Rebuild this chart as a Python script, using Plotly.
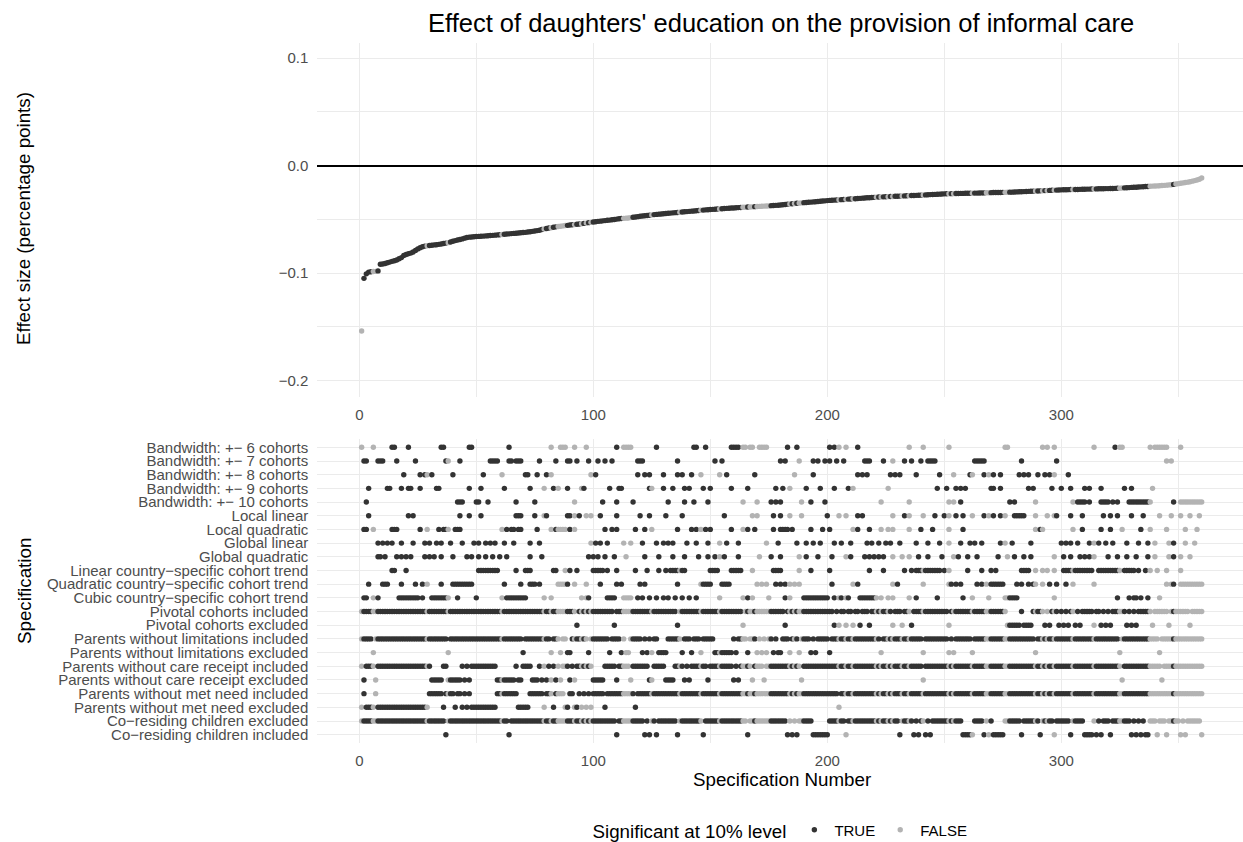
import plotly.graph_objects as go

N_SPECS = 360

# Effect estimate of each specification, sorted ascending (units of 1e-4)
effect_e4 = [
    -1538, -1048, -1006, -990, -987, -985, -983, -979, -917, -914,
    -910, -903, -897, -890, -885, -878, -866, -855, -836, -826,
    -819, -813, -803, -788, -774, -763, -754, -748, -745, -742,
    -740, -737, -735, -732, -728, -724, -720, -716, -710, -703,
    -697, -692, -687, -681, -674, -668, -665, -663, -661, -659,
    -658, -656, -655, -653, -652, -650, -648, -646, -644, -642,
    -640, -638, -636, -634, -632, -630, -628, -626, -624, -622,
    -620, -617, -614, -611, -608, -604, -600, -594, -588, -584,
    -580, -577, -573, -569, -566, -563, -560, -557, -555, -552,
    -550, -548, -545, -543, -540, -537, -534, -530, -527, -524,
    -521, -518, -516, -513, -511, -508, -506, -503, -500, -497,
    -494, -492, -490, -488, -486, -483, -480, -477, -474, -471,
    -468, -466, -463, -461, -458, -455, -453, -451, -449, -447,
    -445, -443, -441, -439, -437, -435, -433, -431, -429, -427,
    -425, -423, -421, -419, -417, -415, -413, -411, -410, -408,
    -406, -405, -403, -402, -400, -399, -397, -396, -394, -393,
    -391, -390, -389, -387, -386, -385, -384, -383, -381, -380,
    -379, -378, -376, -375, -374, -372, -371, -369, -368, -366,
    -363, -361, -358, -356, -354, -352, -350, -348, -346, -344,
    -342, -340, -339, -337, -335, -333, -331, -329, -327, -325,
    -323, -322, -320, -319, -317, -316, -314, -313, -311, -310,
    -308, -307, -305, -304, -302, -301, -299, -298, -296, -295,
    -294, -292, -291, -290, -289, -288, -287, -286, -285, -284,
    -283, -282, -281, -280, -279, -278, -277, -276, -275, -274,
    -273, -272, -271, -269, -268, -267, -266, -265, -263, -262,
    -261, -261, -260, -260, -259, -259, -258, -258, -257, -257,
    -256, -256, -255, -255, -254, -253, -253, -252, -252, -251,
    -250, -250, -249, -249, -248, -248, -247, -246, -246, -245,
    -244, -243, -242, -241, -240, -239, -238, -237, -236, -235,
    -234, -233, -232, -231, -230, -229, -228, -227, -226, -225,
    -224, -224, -223, -222, -222, -221, -221, -220, -219, -219,
    -218, -218, -217, -216, -216, -215, -215, -214, -213, -213,
    -212, -212, -211, -210, -209, -207, -206, -205, -204, -202,
    -201, -200, -199, -197, -196, -194, -193, -192, -190, -189,
    -188, -186, -185, -183, -181, -179, -177, -174, -171, -167,
    -163, -160, -157, -153, -149, -144, -139, -133, -126, -115,
]

# Specifications that are NOT significant at the 10% level
not_significant = ("1,6-7,29,38,61,79,82,85-88,92,95,97,99,113-116,125,137,146,154,"
                   "164-165,167-168,170-175,184,186,188-189,205,208,211,221,223,226,228,"
                   "232,235,241,252,254,262,268-269,276-277,289,292,294,297,305,314,"
                   "325-326,338-347,349-360")

# Which specifications use each analytic choice
bandwidth_6 = ("1,6,14-15,21,35-36,47-48,64,82,86-88,92,97,110,113-116,127,143-144,148,"
               "159-162,164-165,167-168,171-174,183,187,201,203,205,208,213,235,241,252,"
               "276-277,292,294,297,314,323,325-326,338,340-345,351")
bandwidth_7 = ("2-3,8-10,16,24,37-38,43,56-59,64-65,67-69,77,84,89-90,93,98,102,105,108,"
               "119-121,136,152,155,180,182,188,194,196,199,201,204,207,216-218,224,228,"
               "233,236,240,243-246,263-267,283,298,345,347")
bandwidth_8 = ("19,26,28-29,31,40,53,61,71-72,76,80,82,99,101,119,122,124,130,136,138,142,"
               "146,154,157,169,186,194,213,215,217,227,229,231,238,248,254,261-262,267,"
               "269,271,274,282,284,286,290,293,295,297,303")
bandwidth_9 = ("4,12-13,18,21-22,26,33-34,47,52,62,73,79,83,85,89,95-96,107,111-112,"
               "124-125,130,134,139,141,147,150,159,166,178,181,184,191,197,203,209,211,"
               "226,247,251,255,257,259,270-271,274,286,288,296,300,304,310,312,317,327,"
               "330,339")
bandwidth_10 = ("3,42-44,50-51,55,67,75,92,104,110,117,132,139,143,149,164,170,176,178,180,"
                "189,193,199,223,235,252,254,257,278,280,289,305,307-310,312,317-320,322,"
                "324,329-338,348,351-360")
local_linear = ("4,21,23,43,47,52,67-69,75,79-80,89-90,92,94,97,99,103,110,120,124,131,138,"
                "156,168,170,177,180,184,189,200,205,208,213,215,228,233,235,241,246,250,"
                "252,255,258,262,267,269,271,274,276,280-284,289,294,297-298,304,309,318,"
                "321,324,330,335,342,347,351,355,359")
local_quadratic = ("2-3,6,14-16,26,29,34,36-38,41-43,61,63,65-66,68-69,76,82,84-88,90,92,105,"
                   "108,110,118,122,125,136,142,144,146,148,150,159,164,166,169,177,180-183,"
                   "185,193,198,201,211,213,218,223,226,228,235,240,245,252,258,289,291-292,"
                   "305,309,317,321,326,334,338,345,353,358")
global_linear = ("8,10,12,14,18,23,28,30,33,35,39,44,49,51,54,56,58,62,66,73,77,99,101,103,"
                 "106,113,116,121,127,130,132,134,140,144,149,154,157,162,174,179,187,191,"
                 "194,197,203,206,210,217,219,222,225,227,231,238,243,248,252,257,261,263,"
                 "266,274,276,279,287,300,302,304,307,312,314,316,319,322,328,333,337,340,"
                 "346,348,353,357")
global_quadratic = ("8-9,11,16,18,20,22,28,30,32,35,40,46,48,51,54,57,60,63,73,78,98,100,102,"
                    "105,109,114,122,128,134,139,145,149,152,154,156,162,171,176,180,188,191,"
                    "196,202,208,210,216,218,220,222,224,228,232,235,239,243,249,254,256,260,"
                    "264,273,277,280,284,287,297,301,304,308,310,312,314,320,324,328,332,337,"
                    "340,346,348,351,355")
trend_linear = ("14-15,20,51-59,67,71-73,83-84,88,90,93,100-104,106,110,118,123,128,131,"
                "133-139,150-153,159-163,168,177-180,188,193,201,218,224,233,236,238-248,"
                "250,252,260,266,270,272,283-286,289,292,294,297,301-313,316-325,327-331,"
                "333,336,338,341,345,351")
trend_quadratic = ("4,10-12,18,24,27,29,35,40-48,62,69,73-75,77,85-89,92,97,103,110,112,120,"
                   "122,136,146-150,155-158,170,172,174,178,180,182,184,186,188,202,211,213,"
                   "228,230,241,252-253,255,257,264,266,268,270-275,281,283,286,288-289,292,"
                   "295,298,302,305,314,345,347-348,351-360")
trend_cubic = ("2-3,6,8,17-25,27,31-38,42,50,61,63-71,79,82,95,97-98,106-109,113-116,119,"
               "121,124,127,130,132,135,138,141,144,154,164,166,168,175,182,184,190-200,203,"
               "205-206,208-209,214-221,223,226,228,235,238,247,258,262,269,276-281,297,324,"
               "329,331-332,334,337,342")
pivotal_excluded = ("93,109,136,164,182,203,205,208,211,214,218,228,232,236,252,277-282,"
                    "284-287,293,295,299,301,303,306,308,314,317,319,321,328,330,332,339,"
                    "346,355")
limitations_excluded = ("6,38,70,82,86,89-90,98,107,112,114-115,121,123,125,128-131,138,142,"
                        "146,152-159,161,166,170,172,174,177,179-180,184,188,193,195,201,223,"
                        "241,252,254,262,289,325,342")
care_receipt_excluded = ("2,7,31-35,38-43,45,47,59-66,68-69,74-76,78,80,82,84,86,90,92,"
                         "100-104,110,116,124-125,131-134,139,141,149,160,162,168,173,189,"
                         "241,326,343")
met_need_excluded = ("1,3-6,8-29,36,41,44,46,48-58,68-72,79,83,88-89,92-93,95,97,99,105,"
                     "118,205")
coresiding_included = ("37,64,110,122,124,127,136,147,166,183,185,187,194-200,208,231,237,"
                       "239,242,244,258-262,267,269,271-275,283,291,297,304,310-313,315,317,"
                       "321,330,332,334,336-337,341,345,351,353,360")


def expand(ranges):
    """Turn '1,4-6' into [1, 4, 5, 6]."""
    specs = set()
    for part in ranges.split(","):
        part = part.strip()
        if not part:
            continue
        if "-" in part:
            lo, hi = part.split("-")
            specs.update(range(int(lo), int(hi) + 1))
        else:
            specs.add(int(part))
    return sorted(s for s in specs if 1 <= s <= N_SPECS)


def complement(ranges):
    taken = set(expand(ranges))
    return [s for s in range(1, N_SPECS + 1) if s not in taken]


MINUS = "\u2212"
rows = [
    (f"Bandwidth: +{MINUS} 6 cohorts", expand(bandwidth_6)),
    (f"Bandwidth: +{MINUS} 7 cohorts", expand(bandwidth_7)),
    (f"Bandwidth: +{MINUS} 8 cohorts", expand(bandwidth_8)),
    (f"Bandwidth: +{MINUS} 9 cohorts", expand(bandwidth_9)),
    (f"Bandwidth: +{MINUS} 10 cohorts", expand(bandwidth_10)),
    ("Local linear", expand(local_linear)),
    ("Local quadratic", expand(local_quadratic)),
    ("Global linear", expand(global_linear)),
    ("Global quadratic", expand(global_quadratic)),
    (f"Linear country{MINUS}specific cohort trend", expand(trend_linear)),
    (f"Quadratic country{MINUS}specific cohort trend", expand(trend_quadratic)),
    (f"Cubic country{MINUS}specific cohort trend", expand(trend_cubic)),
    ("Pivotal cohorts included", complement(pivotal_excluded)),
    ("Pivotal cohorts excluded", expand(pivotal_excluded)),
    ("Parents without limitations included", complement(limitations_excluded)),
    ("Parents without limitations excluded", expand(limitations_excluded)),
    ("Parents without care receipt included", complement(care_receipt_excluded)),
    ("Parents without care receipt excluded", expand(care_receipt_excluded)),
    ("Parents without met need included", complement(met_need_excluded)),
    ("Parents without met need excluded", expand(met_need_excluded)),
    (f"Co{MINUS}residing children excluded", complement(coresiding_included)),
    (f"Co{MINUS}residing children included", expand(coresiding_included)),
]

DARK = "#333333"
LIGHT = "#b3b3b3"
GRID = "#ebebeb"
TICK_GREY = "#4d4d4d"
FONT = "Liberation Sans, Arial, Helvetica, sans-serif"
MARKER = 5.4

insignificant = set(expand(not_significant))


def colour(spec):
    return LIGHT if spec in insignificant else DARK


spec_numbers = list(range(1, N_SPECS + 1))
effects = [v / 10000 for v in effect_e4]

fig = go.Figure()

# Specification curve
fig.add_trace(go.Scatter(
    x=spec_numbers, y=effects, mode="markers",
    marker=dict(size=MARKER, color=[colour(s) for s in spec_numbers], line=dict(width=0)),
    xaxis="x", yaxis="y", showlegend=False, hoverinfo="skip",
))

# Specification matrix: one dot per (choice, specification)
n_rows = len(rows)
px, py, pc = [], [], []
for i, (label, specs) in enumerate(rows):
    ypos = n_rows - 1 - i
    for s in specs:
        px.append(s)
        py.append(ypos)
        pc.append(colour(s))
fig.add_trace(go.Scatter(
    x=px, y=py, mode="markers",
    marker=dict(size=MARKER, color=pc, line=dict(width=0)),
    xaxis="x2", yaxis="y2", showlegend=False, hoverinfo="skip",
))

# Legend entries
for name, col in (("TRUE", DARK), ("FALSE", LIGHT)):
    fig.add_trace(go.Scatter(
        x=[None], y=[None], mode="markers", name=name,
        marker=dict(size=MARKER, color=col), xaxis="x", yaxis="y",
    ))

W, H = 1243, 842
x_dom = [317.3 / W, 1.0]
x_range = [-17.95, 377.65]

common_x = dict(
    domain=x_dom, range=x_range, tickvals=[0, 100, 200, 300],
    showgrid=True, gridcolor=GRID, gridwidth=1.4,
    minor=dict(tickvals=[50, 150, 250, 350], showgrid=True, gridcolor=GRID, gridwidth=0.7),
    zeroline=False, showline=False, ticks="outside", ticklen=4,
    tickcolor="rgba(0,0,0,0)", tickfont=dict(size=15, color=TICK_GREY, family=FONT),
    automargin=False,
)

fig.update_layout(
    width=W, height=H,
    margin=dict(l=0, r=0, t=0, b=0, autoexpand=False),
    paper_bgcolor="white", plot_bgcolor="white",
    font=dict(family=FONT, color="black"),
    xaxis=dict(common_x, anchor="y"),
    yaxis=dict(
        domain=[1 - 396.7 / H, 1 - 42.7 / H], range=[-0.2149, 0.1144],
        tickvals=[-0.2, -0.1, 0.0, 0.1],
        ticktext=[f"{MINUS}0.2", f"{MINUS}0.1", "0.0", "0.1"],
        showgrid=True, gridcolor=GRID, gridwidth=1.4,
        minor=dict(tickvals=[-0.15, -0.05, 0.05], showgrid=True, gridcolor=GRID, gridwidth=0.7),
        zeroline=True, zerolinecolor="black", zerolinewidth=1.8,
        showline=False, ticks="outside", ticklen=5, tickcolor="rgba(0,0,0,0)",
        tickfont=dict(size=15, color=TICK_GREY, family=FONT),
        anchor="x", automargin=False,
    ),
    xaxis2=dict(common_x, anchor="y2"),
    yaxis2=dict(
        domain=[1 - 742.9 / H, 1 - 439.1 / H], range=[-0.6, n_rows - 1 + 0.6],
        tickvals=list(range(n_rows)),
        ticktext=[label for label, _ in rows][::-1],
        showgrid=True, gridcolor=GRID, gridwidth=1.4,
        zeroline=False, showline=False, ticks="outside", ticklen=5,
        tickcolor="rgba(0,0,0,0)",
        tickfont=dict(size=15, color=TICK_GREY, family=FONT),
        anchor="x2", automargin=False,
    ),
    legend=dict(
        orientation="h", x=781.5 / W, xanchor="center", y=1 - 831 / H, yanchor="middle",
        title=dict(text="Significant at 10% level", side="left",
                   font=dict(size=18.75, color="black", family=FONT)),
        font=dict(size=15, color="black", family=FONT),
        bgcolor="rgba(0,0,0,0)",
    ),
    annotations=[
        dict(text="Effect of daughters' education on the provision of informal care",
             x=780.5 / W, y=1 - 22.7 / H, xref="paper", yref="paper",
             xanchor="center", yanchor="middle", showarrow=False,
             font=dict(size=25.5, color="black", family=FONT)),
        dict(text="Effect size (percentage points)", x=24 / W, y=1 - 219 / H,
             xref="paper", yref="paper", xanchor="center", yanchor="middle",
             textangle=-90, showarrow=False,
             font=dict(size=18.75, color="black", family=FONT)),
        dict(text="Specification", x=24 / W, y=1 - 591 / H,
             xref="paper", yref="paper", xanchor="center", yanchor="middle",
             textangle=-90, showarrow=False,
             font=dict(size=18.75, color="black", family=FONT)),
        dict(text="Specification Number", x=781.5 / W, y=1 - 779 / H,
             xref="paper", yref="paper", xanchor="center", yanchor="middle",
             showarrow=False, font=dict(size=18.75, color="black", family=FONT)),
    ],
)

fig.write_html("out.html")
